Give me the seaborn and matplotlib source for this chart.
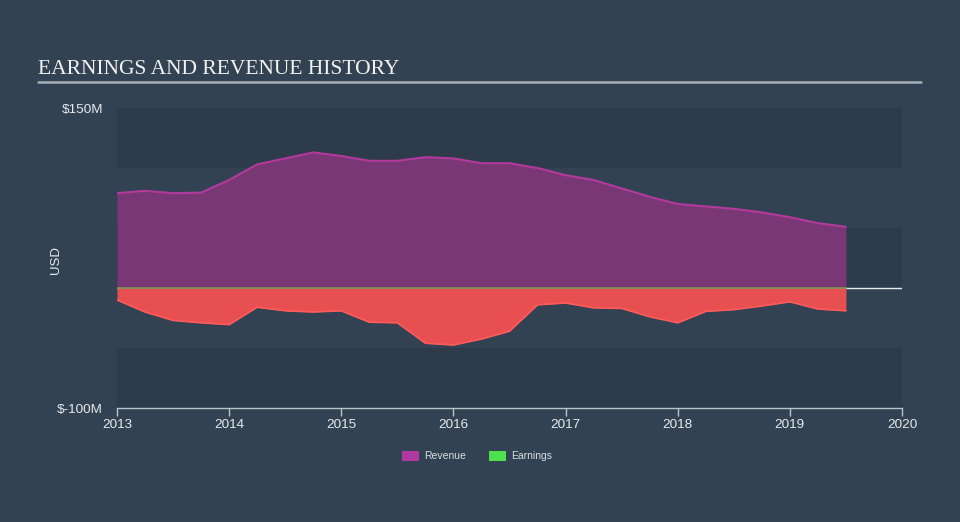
import numpy as np
import pandas as pd
import matplotlib
matplotlib.use("Agg")
import matplotlib.pyplot as plt
from matplotlib.patches import Patch
from matplotlib.lines import Line2D
import seaborn as sns

# ---- data (USD millions) ----
years = [2013.0, 2013.25, 2013.5, 2013.75, 2014.0, 2014.25, 2014.5, 2014.75,
         2015.0, 2015.25, 2015.5, 2015.75, 2016.0, 2016.25, 2016.5, 2016.75,
         2017.0, 2017.25, 2017.5, 2017.75, 2018.0, 2018.25, 2018.5, 2018.75,
         2019.0, 2019.25, 2019.5]
revenue = [79, 81, 79, 79.5, 90, 103, 108, 113,
           110, 106, 106, 109, 108, 104, 104, 100,
           94, 90, 83, 76, 70, 68, 66, 63,
           59, 54, 51]
earnings = [-10, -20, -27, -29, -30.5, -16, -19, -20,
            -19, -28.5, -29, -46, -47.5, -42.5, -36, -14,
            -12.5, -16.5, -17, -24, -29, -19.5, -18, -15,
            -11.5, -17.5, -19]
xticks = [2013, 2014, 2015, 2016, 2017, 2018, 2019, 2020]
ytick_vals = [-100, 150]
ytick_labels = ["$-100M", "$150M"]

df = pd.DataFrame({"year": years, "Revenue": revenue, "Earnings": earnings})

sns.set_theme(style="dark")
plt.rcParams["font.family"] = ["Liberation Sans", "DejaVu Sans"]

BG = "#334252"
BAND = "#2e3b4a"
fig = plt.figure(figsize=(9.6, 5.22), dpi=100, facecolor=BG)
ax = fig.add_axes([117/960, 1 - 408/522, (902 - 117)/960, 300/522])
ax.set_facecolor(BG)

ax.set_xlim(2013, 2020)
ax.set_ylim(-100, 150)

# alternating bands
for lo, hi in [(100, 150), (0, 50), (-100, -50)]:
    ax.axhspan(lo, hi, color=BAND, zorder=0, lw=0)
ax.axhline(0, color="#e8ecef", lw=1, zorder=1)

# fills
ax.fill_between(df["year"], 0, df["Revenue"], color="#7a3775", lw=0, zorder=2)
ax.fill_between(df["year"], 0, df["Earnings"], color="#e84f51", lw=0, zorder=2)
sns.lineplot(data=df, x="year", y="Revenue", ax=ax, color="#b23a9c", lw=1.5, zorder=3)
sns.lineplot(data=df, x="year", y="Earnings", ax=ax, color="#ff5b5b", lw=1.2, zorder=3)
ax.plot([df["year"].iloc[0], df["year"].iloc[-1]], [0, 0], color="#7f9650", lw=1.2, zorder=4)

# axes styling
for s in ["top", "right", "left"]:
    ax.spines[s].set_visible(False)
ax.spines["bottom"].set_color("#b9c2cb")
ax.spines["bottom"].set_linewidth(1)
ax.set_xticks(xticks)
ax.set_xticklabels([str(t) for t in xticks])
ax.tick_params(axis="x", colors="#b9c2cb", length=6, width=1, direction="out",
               labelcolor="#e6e9ec", labelsize=9.7, pad=2, bottom=True)
ax.set_yticks(ytick_vals)
ax.set_yticklabels(ytick_labels)
ax.tick_params(axis="y", length=0, labelcolor="#e6e9ec", labelsize=9.7, pad=10)
ax.set_xlabel("")
ax.set_ylabel("USD", color="#e6e9ec", fontsize=9.5)
ax.yaxis.set_label_coords((62 - 117) / 785, (408 - 260) / 300)
ax.grid(False)

# title
fig.text(38/960, 1 - 74/522, "EARNINGS AND REVENUE HISTORY", color="#f2f2f2",
         fontsize=15.5, family=["Liberation Serif", "DejaVu Serif"], va="baseline", ha="left")
fig.add_artist(Line2D([38/960, 921/960], [1 - 81.5/522, 1 - 81.5/522], color="#a9b0b7", lw=1.8))

# legend
handles = [Patch(facecolor="#b0399f", edgecolor="none"), Patch(facecolor="#4ddf4d", edgecolor="none")]
fig.legend(handles, ["Revenue", "Earnings"], loc="center", bbox_to_anchor=(477/960, 1 - 456/522),
           ncol=2, frameon=False, fontsize=7.5, labelcolor="#d8dde2", handlelength=1.6,
           handleheight=1.2, handletextpad=0.5, columnspacing=2.2)

fig.savefig("out.png", dpi=100, facecolor=BG)
